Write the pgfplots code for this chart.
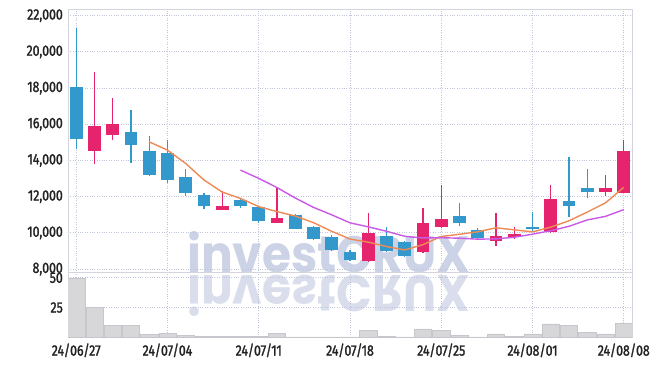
\documentclass[border=0pt]{standalone}
\usepackage{fontspec}
\setmainfont{Fira Sans}[FakeStretch=0.82,FakeBold=1.6]
\newfontfamily\wmfont{Poppins}
\usepackage{graphicx}
\usepackage{pgfplots}
\pgfplotsset{compat=1.18}
\usepackage{pgfplotstable}
\definecolor{upc}{HTML}{E6246E}
\definecolor{dnc}{HTML}{3399CC}
\definecolor{maA}{HTML}{EE8A55}
\definecolor{maB}{HTML}{C85AE6}
\definecolor{gridc}{HTML}{C0C6DA}
\definecolor{framec}{HTML}{D4D4DC}
\definecolor{sepc}{HTML}{BDBDC6}
\definecolor{wmc}{HTML}{CDD3E6}
\definecolor{txtc}{HTML}{222222}
\definecolor{volf}{HTML}{D7D7DA}
\definecolor{vold}{HTML}{C6C6CC}
\newcommand\lbl{\fontsize{15}{16}\selectfont}

\pgfplotstableread{
x o h l c
1 14520 18900 13830 15890
2 15410 17460 15110 16020
8 11280 12300 11260 11500
11 10540 12540 10520 10830
16 8440 11090 8410 9980
19 8960 11370 8900 10540
20 10350 12670 10260 10760
23 9570 11090 9280 9830
24 9760 10320 9650 9960
26 10070 12630 9980 11890
29 12280 13180 12060 12500
30 12200 15130 12200 14500
}\uptab

\pgfplotstableread{
x o h l c
0 18070 21300 14650 15200
3 15560 16780 13870 14850
4 14500 15350 13150 13190
5 14410 15130 12760 12910
6 13060 13520 12050 12200
7 12110 12200 11330 11460
9 11830 11930 11400 11460
10 11430 11500 10570 10630
12 10980 11050 10200 10240
13 10320 10400 9600 9670
14 9760 9890 9020 9060
15 8960 9050 8450 8500
17 9830 10320 8960 9020
18 9500 9570 8650 8720
21 10940 11650 10390 10570
22 10170 10260 9650 9710
25 10350 11130 10070 10200
27 11740 14180 10870 11460
28 12500 13540 11930 12240
}\dntab

\pgfplotstableread{
x m
4 15030
5 14572
6 13834
7 12922
8 12252
9 11906
10 11450
11 11176
12 10932
13 10566
14 10086
15 9660
16 9490
17 9246
18 9056
19 9352
20 9804
21 9922
22 10060
23 10282
24 10166
25 10054
26 10318
27 10668
28 11150
29 11658
30 12518
}\maAtab

\pgfplotstableread{
x m
9 13468
10 13011
11 12505
12 11927
13 11409
14 10996
15 10555
16 10333
17 10089
18 9811
19 9719
20 9732
21 9706
22 9653
23 9669
24 9759
25 9929
26 10120
27 10364
28 10716
29 10912
30 11286
}\maBtab

\pgfplotstableread{
x v
0 49.6
1 25.2
2 10.1
3 10.1
4 2.5
5 3.6
6 1.7
7 0.8
8 0.6
9 0.6
10 0.8
11 3.6
12 0.3
13 0.3
14 0.3
15 0.3
16 6.1
17 0.8
18 0.3
19 7.0
20 6.1
21 1.7
22 0.3
23 2.8
24 0.8
25 2.8
26 11.2
27 10.1
28 4.4
29 2.8
30 12.0
}\voltab

\begin{document}
\begin{tikzpicture}
\useasboundingbox (0,0) rectangle (661pt,366pt);
% watermark
\node[anchor=south west, inner sep=0pt, text=wmc] at (187pt,93pt) {\resizebox{283pt}{41pt}{\wmfont\bfseries investCRUX}};
\node[anchor=north west, inner sep=0pt, text=wmc, opacity=0.75] at (187pt,91pt) {\scalebox{1}[-1]{\resizebox{283pt}{41pt}{\wmfont\bfseries investCRUX}}};

\begin{axis}[
  at={(68pt,93.3pt)}, anchor=south west,
  scale only axis, width=564pt, height=263.7pt,
  xmin=-0.45, xmax=30.45, ymin=7800, ymax=22370,
  xtick={0,5,...,30}, xticklabels={},
  ytick={8000,10000,...,22000},
  scaled y ticks=false,
  grid=major,
  major grid style={gridc, dotted, line width=0.8pt},
  axis line style={framec, line width=0.8pt},
  tick style={draw=none},
  yticklabel style={font=\lbl, text=txtc, inner sep=0pt, xshift=-5pt,
    /pgf/number format/.cd, fixed, 1000 sep={,}, assume math mode=true},
]
% wicks
\addplot[draw=none, mark=none, forget plot, error bars/.cd, y dir=plus, y explicit, error mark=none,
  error bar style={draw=dnc, line width=1.4pt, solid}]
  table[x=x, y=l, y error plus expr=\thisrow{h}-\thisrow{l}] {\dntab};
\addplot[draw=none, mark=none, forget plot, error bars/.cd, y dir=plus, y explicit, error mark=none,
  error bar style={draw=upc, line width=1.4pt, solid}]
  table[x=x, y=l, y error plus expr=\thisrow{h}-\thisrow{l}] {\uptab};
% bodies
\addplot[draw=none, mark=none, forget plot, error bars/.cd, y dir=plus, y explicit, error mark=none,
  error bar style={draw=dnc, line width=12.7pt, solid}]
  table[x=x, y expr={min(\thisrow{o},\thisrow{c})}, y error plus expr={abs(\thisrow{o}-\thisrow{c})}] {\dntab};
\addplot[draw=none, mark=none, forget plot, error bars/.cd, y dir=plus, y explicit, error mark=none,
  error bar style={draw=upc, line width=12.7pt, solid}]
  table[x=x, y expr={min(\thisrow{o},\thisrow{c})}, y error plus expr={abs(\thisrow{o}-\thisrow{c})}] {\uptab};
% moving averages
\addplot[maA, line width=1.4pt, mark=none] table[x=x, y=m] {\maAtab};
\addplot[maB, line width=1.4pt, mark=none] table[x=x, y=m] {\maBtab};
\draw[sepc, line width=0.9pt] (rel axis cs:0,0) -- (rel axis cs:1,0);
\end{axis}

\begin{axis}[
  at={(68pt,28.7pt)}, anchor=south west,
  scale only axis, width=564pt, height=64.6pt,
  xmin=-0.45, xmax=30.45, ymin=0, ymax=54.3,
  xtick={0,5,...,30},
  xticklabels={24/06/27,24/07/04,24/07/11,24/07/18,24/07/25,24/08/01,24/08/08},
  ytick={25,50},
  grid=major,
  major grid style={gridc, dotted, line width=0.8pt},
  axis line style={framec, line width=0.8pt},
  tick style={draw=none},
  xticklabel style={font=\lbl, text=txtc, inner sep=0pt, yshift=-6pt},
  yticklabel style={font=\lbl, text=txtc, inner sep=0pt, xshift=-5pt,
    /pgf/number format/assume math mode=true},
]
\addplot[ybar, bar width=0.94, fill=volf, draw=vold, line width=0.5pt] table[x=x, y=v] {\voltab};
\node[rotate=90, text=black!70, font=\fontsize{11}{12}\selectfont] at (axis description cs:-0.066,0.56) {$10^6$};
\end{axis}
\end{tikzpicture}
\end{document}
